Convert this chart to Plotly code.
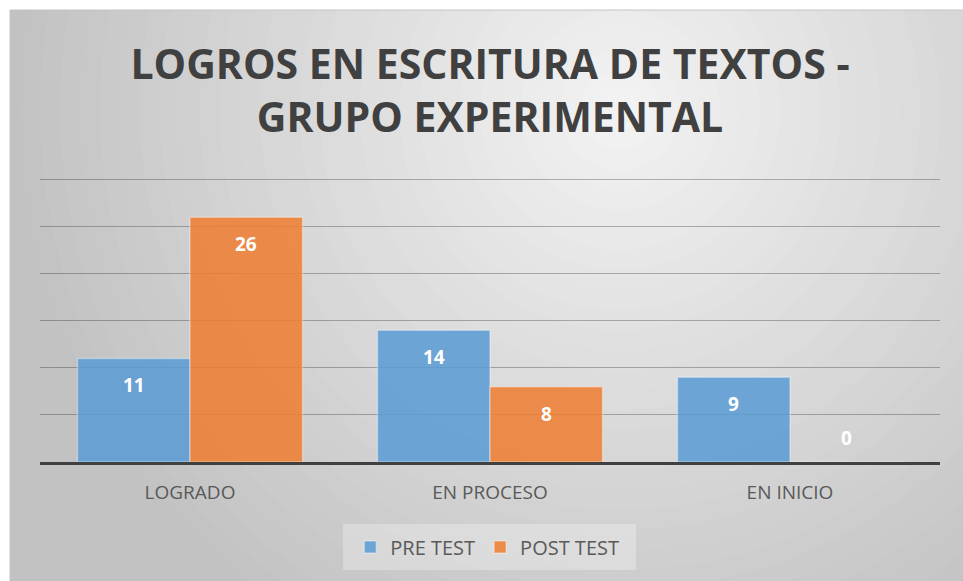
import plotly.graph_objects as go

categories = ["LOGRADO", "EN PROCESO", "EN INICIO"]
pre_test = [11, 14, 9]
post_test = [26, 8, 0]
series_names = ["PRE TEST", "POST TEST"]
title_text = "LOGROS EN ESCRITURA DE TEXTOS -<br>GRUPO EXPERIMENTAL"

W, H = 963, 581
ML, MR, MT, MB = 40, 23, 175, 119
PW = W - ML - MR
PH = H - MT - MB


def px_x(p):
    return (p - ML) / PW


def px_y(p):
    return (H - MB - p) / PH


fig = go.Figure()
fig.add_trace(go.Bar(
    x=categories, y=pre_test, name=series_names[0],
    marker=dict(color="rgba(91,155,213,0.86)",
                line=dict(color="rgba(255,255,255,0.35)", width=1.5)),
))
fig.add_trace(go.Bar(
    x=categories, y=post_test, name=series_names[1],
    marker=dict(color="rgba(237,125,49,0.86)",
                line=dict(color="rgba(255,255,255,0.35)", width=1.5)),
))

# background radial gradient approximation
shapes = []
cx, cy = px_x(620), px_y(110)
steps = 40
rmax = 800
for i in range(steps, 0, -1):
    r = rmax * i / steps
    d = r - rmax / steps / 2
    c = int(round(max(194, 243 - 50 * d / 620)))
    shapes.append(dict(type="circle", layer="below", xref="paper", yref="paper",
                       xsizemode="pixel", ysizemode="pixel",
                       xanchor=cx, yanchor=cy, x0=-r, x1=r, y0=-r, y1=r,
                       fillcolor=f"rgb({c},{c},{c})", line=dict(width=0)))
# white margins outside the chart frame
shapes.append(dict(type="rect", layer="below", xref="paper", yref="paper",
                   x0=px_x(-5), x1=px_x(10), y0=px_y(H + 5), y1=px_y(-5),
                   fillcolor="white", line=dict(width=0)))
shapes.append(dict(type="rect", layer="below", xref="paper", yref="paper",
                   x0=px_x(-5), x1=px_x(W + 5), y0=px_y(10), y1=px_y(-5),
                   fillcolor="white", line=dict(width=0)))
shapes.append(dict(type="line", layer="below", xref="paper", yref="paper",
                   x0=px_x(10), x1=px_x(10), y0=px_y(10), y1=px_y(H + 5),
                   line=dict(color="#c4c4c4", width=1)))
shapes.append(dict(type="line", layer="below", xref="paper", yref="paper",
                   x0=px_x(10), x1=px_x(W + 5), y0=px_y(10), y1=px_y(10),
                   line=dict(color="#c4c4c4", width=1)))
# legend box
shapes.append(dict(type="rect", layer="below", xref="paper", yref="paper",
                   x0=px_x(343), x1=px_x(636), y0=px_y(570), y1=px_y(524),
                   fillcolor="rgba(255,255,255,0.28)", line=dict(width=0)))

# data labels
annotations = []
bar_half = PW / len(categories) * 0.75 / 4
for vals, shift in ((pre_test, -bar_half), (post_test, bar_half)):
    for cat, v in zip(categories, vals):
        annotations.append(dict(
            x=cat, y=v, xref="x", yref="y", text=str(v), showarrow=False,
            xshift=shift, yshift=(-27 if v > 0 else 24),
            font=dict(family="Open Sans", size=19, color="white", weight="bold"),
        ))

fig.update_layout(
    width=W, height=H,
    margin=dict(l=ML, r=MR, t=MT, b=MB),
    paper_bgcolor="#c4c4c4",
    plot_bgcolor="rgba(0,0,0,0)",
    barmode="group", bargap=0.25, bargroupgap=0,
    title=dict(text=title_text, x=0.5, xref="paper", xanchor="center",
               y=1 - 79 / H, yref="container", yanchor="middle",
               font=dict(family="Open Sans", size=41, color="#404040", weight="bold")),
    shapes=shapes,
    annotations=annotations,
    showlegend=True,
    legend=dict(orientation="h", x=0.497, xanchor="center", y=px_y(547), yanchor="middle",
                bgcolor="rgba(0,0,0,0)", font=dict(family="Open Sans", size=20, color="#595959"),
                itemwidth=30),
    xaxis=dict(showline=True, linecolor="#404040", linewidth=3, ticks="",
               tickfont=dict(family="Open Sans", size=19, color="#595959"),
               ticklabelstandoff=11, showgrid=False),
    yaxis=dict(range=[0, 30.5], dtick=5, showticklabels=False, zeroline=False,
               showgrid=True, gridcolor="rgba(0,0,0,0.27)", gridwidth=1, ticks=""),
)

fig.write_html("out.html", config={"displayModeBar": False},
               post_script="document.body.style.margin='0';")
